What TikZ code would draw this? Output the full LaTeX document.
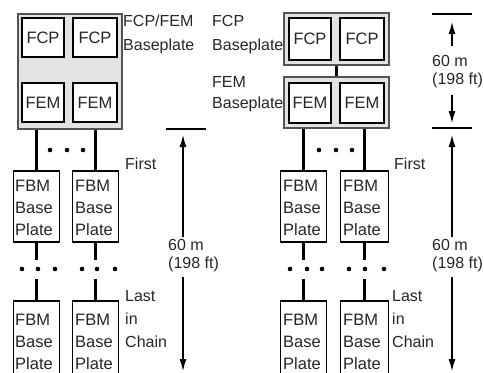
\documentclass[tikz,border=0pt]{standalone}
\usepackage{fontspec}
\setmainfont{Liberation Sans}
\usetikzlibrary{arrows.meta}
\begin{document}
\begin{tikzpicture}[x=1pt,y=-1pt,
  every node/.style={font=\fontsize{16.5}{22}\selectfont, text=black!85},
  plate/.style={draw=gray!65!black, fill=gray!22, line width=1.4pt, inner sep=0pt},
  unit/.style={draw=black, fill=white, line width=1.3pt, inner sep=0pt},
  fbm/.style={draw=black, fill=white, line width=1.2pt, inner sep=0pt, minimum width=46pt, minimum height=71pt},
  fbmtxt/.style={anchor=north west, align=left, inner sep=0pt},
  multi/.style={anchor=north west, align=left, inner sep=0pt, font=\fontsize{16}{23}\selectfont},
  dimtxt/.style={anchor=north west, align=left, inner sep=0pt, font=\fontsize{16}{18}\selectfont},
  bus/.style={line width=2.6pt},
  dot/.style={circle, fill=black, inner sep=0pt, minimum size=4.6pt},
  lbl/.style={anchor=base west, inner sep=0pt, font=\fontsize{16}{20}\selectfont},
  dimline/.style={line width=1.2pt},
  dimarrow/.style={line width=1.3pt, -{Latex[length=12pt,width=7pt]}}
]
\useasboundingbox (0,0) rectangle (484,372);
\clip (0,0) rectangle (484,372);

% ---------------- left: combined FCP/FEM baseplate ----------------
\node[plate, minimum width=104pt, minimum height=115pt] (LB) at (70,71.5) {};
\node[unit, minimum width=42pt, minimum height=39pt] (LFCPa) at (43,37.5) {FCP};
\node[unit, minimum width=44pt, minimum height=39pt] (LFCPb) at (95,37.5) {FCP};
\node[unit, minimum width=42pt, minimum height=39pt] (LFEMa) at (43,102.5) {FEM};
\node[unit, minimum width=44pt, minimum height=39pt] (LFEMb) at (95,102.5) {FEM};

\node[fbm] (LFBMa1) at (36.5,206.5) {};
\node[fbm] (LFBMb1) at (95.5,206.5) {};
\node[fbm, minimum height=80pt] (LFBMa2) at (36.5,341) {};
\node[fbm, minimum height=80pt] (LFBMb2) at (95.5,341) {};
\node[fbmtxt] (LFBMa1t) at (15,180) {FBM\\Base\\Plate};
\node[fbmtxt] (LFBMb1t) at (75,180) {FBM\\Base\\Plate};
\node[fbmtxt] (LFBMa2t) at (15,314) {FBM\\Base\\Plate};
\node[fbmtxt] (LFBMb2t) at (75,314) {FBM\\Base\\Plate};

\coordinate (gapTop) at (0,260);
\coordinate (gapBot) at (0,279);

\draw[bus] (LFBMa1.north |- LB.south) -- (LFBMa1.north);
\draw[bus] (LFBMb1.north |- LB.south) -- (LFBMb1.north);
\draw[bus] (LFBMa1.south) -- (LFBMa1.south |- gapTop);
\draw[bus] (LFBMb1.south) -- (LFBMb1.south |- gapTop);
\draw[bus] (LFBMa2.north |- gapBot) -- (LFBMa2.north);
\draw[bus] (LFBMb2.north |- gapBot) -- (LFBMb2.north);

\foreach \x in {50,67,83} \node[dot] (dLt\x) at (\x,150) {};
\foreach \x in {22,38,55,82,97,115} \node[dot] (dLb\x) at (\x,269) {};

\node[lbl] (tLa) at (123,27) {FCP/FEM};
\node[lbl] (tLb) at (123,50) {Baseplate};
\node[lbl] (tLfirst) at (125,169) {First};
\node[multi] (tLlast) at (125,290) {Last\\in\\Chain};

% left dimension
\coordinate (LdimA) at (166,129);
\coordinate (LdimB) at (206,129);
\draw[dimline] (LdimA) -- (LdimB);
\node[dimtxt] (tLdim) at (168,239) {60 m\\(198 ft)};
\coordinate (LupTip) at (183,135);
\coordinate (LdnTip) at (183,371);
\draw[dimarrow] (183,237) -- (LupTip);
\draw[dimarrow] (183,277) -- (LdnTip);

% ---------------- right: separate baseplates ----------------
\node[plate, minimum width=105pt, minimum height=52pt] (RB1) at (336.5,39) {};
\node[plate, minimum width=105pt, minimum height=51pt] (RB2) at (336.5,102.5) {};
\draw[bus] (RB1.south) -- (RB2.north);
\node[unit, minimum width=42pt, minimum height=42pt] (RFCPa) at (310,39) {FCP};
\node[unit, minimum width=44pt, minimum height=42pt] (RFCPb) at (362,39) {FCP};
\node[unit, minimum width=42pt, minimum height=40pt] (RFEMa) at (310,103) {FEM};
\node[unit, minimum width=44pt, minimum height=40pt] (RFEMb) at (362,103) {FEM};

\node[fbm] (RFBMa1) at (303.5,206.5) {};
\node[fbm, minimum width=48pt] (RFBMb1) at (364.5,206.5) {};
\node[fbm, minimum height=80pt] (RFBMa2) at (303.5,341) {};
\node[fbm, minimum width=48pt, minimum height=80pt] (RFBMb2) at (364.5,341) {};
\node[fbmtxt] (RFBMa1t) at (283,180) {FBM\\Base\\Plate};
\node[fbmtxt] (RFBMb1t) at (343,180) {FBM\\Base\\Plate};
\node[fbmtxt] (RFBMa2t) at (283,314) {FBM\\Base\\Plate};
\node[fbmtxt] (RFBMb2t) at (343,314) {FBM\\Base\\Plate};

\draw[bus] (RFBMa1.north |- RB2.south) -- (RFBMa1.north);
\draw[bus] (RFBMb1.north |- RB2.south) -- (RFBMb1.north);
\draw[bus] (RFBMa1.south) -- (RFBMa1.south |- gapTop);
\draw[bus] (RFBMb1.south) -- (RFBMb1.south |- gapTop);
\draw[bus] (RFBMa2.north |- gapBot) -- (RFBMa2.north);
\draw[bus] (RFBMb2.north |- gapBot) -- (RFBMb2.north);

\foreach \x in {319,336,352} \node[dot] (dRt\x) at (\x,150) {};
\foreach \x in {290,307,322,349,365,384} \node[dot] (dRb\x) at (\x,269) {};

\node[lbl] (tRa) at (212,27) {FCP};
\node[lbl] (tRb) at (212,50) {Baseplate};
\node[lbl] (tRc) at (212,87) {FEM};
\node[lbl] (tRd) at (212,108) {Baseplate};
\node[lbl] (tRfirst) at (394,169) {First};
\node[multi] (tRlast) at (392,290) {Last\\in\\Chain};

% right dimensions
\coordinate (RdimA) at (432,14);
\coordinate (RdimB) at (472,14);
\coordinate (RdimC) at (432,128);
\coordinate (RdimD) at (472,128);
\draw[dimline] (RdimA) -- (RdimB);
\draw[dimline] (RdimC) -- (RdimD);
\node[dimtxt] (tRdim1) at (432,55) {60 m\\(198 ft)};
\node[dimtxt] (tRdim2) at (432,239) {60 m\\(198 ft)};
\coordinate (RupTip1) at (452,22);
\coordinate (RdnTip1) at (452,123);
\coordinate (RupTip2) at (452,135);
\coordinate (RdnTip2) at (452,371);
\draw[dimarrow] (452,46) -- (RupTip1);
\draw[dimarrow] (452,95) -- (RdnTip1);
\draw[dimarrow] (452,237) -- (RupTip2);
\draw[dimarrow] (452,277) -- (RdnTip2);
\end{tikzpicture}
\end{document}
